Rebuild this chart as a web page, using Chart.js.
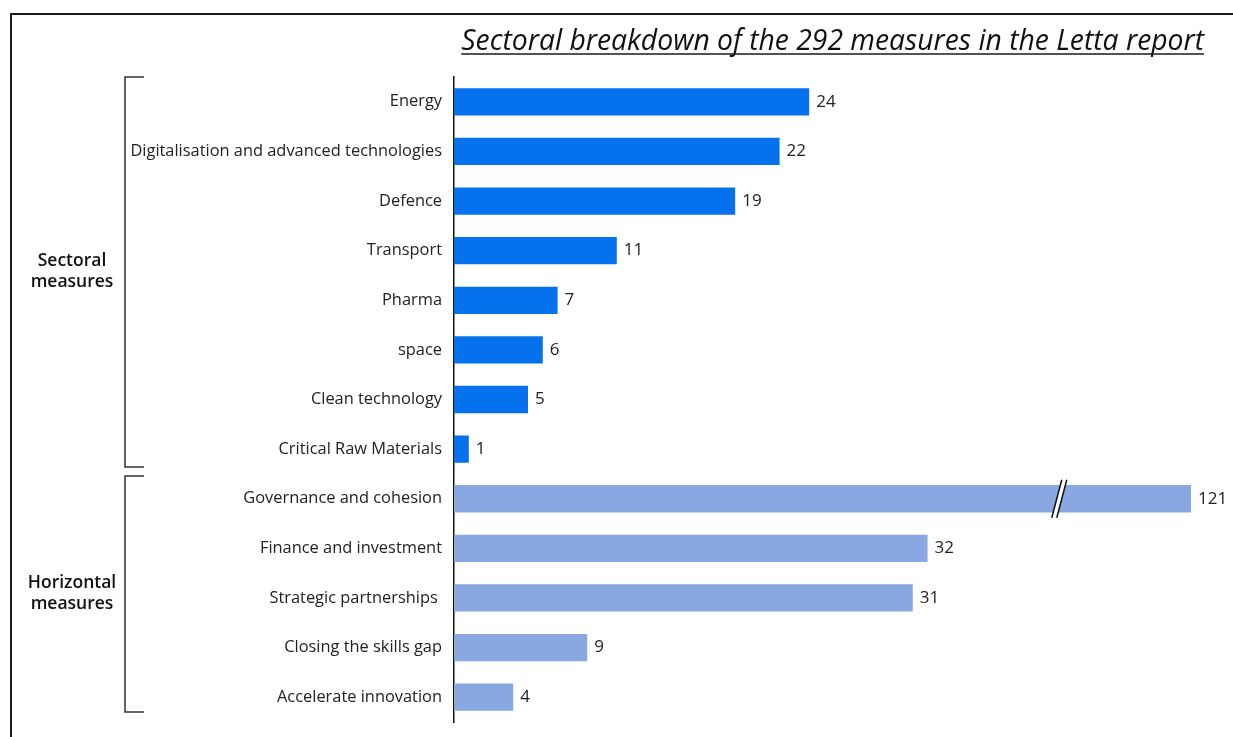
<!DOCTYPE html>
<html>
<head>
<meta charset="utf-8">
<script src="https://cdn.jsdelivr.net/npm/chart.js@4"></script>
<style>
  html, body { margin:0; padding:0; background:#fff; }
  #wrap { width:1233px; height:737px; }
</style>
</head>
<body>
<div id="wrap"><canvas id="lettaChart" width="1233" height="737"></canvas></div>
<script>
var categories = ['Energy','Digitalisation and advanced technologies','Defence','Transport','Pharma','space','Clean technology','Critical Raw Materials','Governance and cohesion','Finance and investment','Strategic partnerships ','Closing the skills gap','Accelerate innovation'];
var measures = [24,22,19,11,7,6,5,1,121,32,31,9,4];
var groups = ['S','S','S','S','S','S','S','S','H','H','H','H','H'];
var groupLabels = { S:['Sectoral','measures'], H:['Horizontal','measures'] };
var axisMax = 49.8;    // axis is cut, the 121 bar gets a break mark
var breakAt = 41;

var sectoralColor = '#0571ec';
var horizontalColor = '#89a7e1';

var extras = {
    id:'extras',
    afterDraw:function(chart){
        var ctx = chart.ctx, area = chart.chartArea;
        var xs = chart.scales.x, ys = chart.scales.y;
        var meta = chart.getDatasetMeta(0);
        ctx.save();
        // frame
        ctx.strokeStyle = '#1a1a1a';
        ctx.lineWidth = 2;
        ctx.beginPath();
        ctx.moveTo(11, 760); ctx.lineTo(11, 14); ctx.lineTo(1260, 14);
        ctx.stroke();
        // title
        ctx.font = 'italic 28.3px "Open Sans"';
        ctx.fillStyle = '#111';
        ctx.textAlign = 'right';
        ctx.textBaseline = 'alphabetic';
        var t = 'Sectoral breakdown of the 292 measures in the Letta report';
        ctx.fillText(t, 1204, 50);
        var tw = ctx.measureText(t).width;
        ctx.lineWidth = 1.4;
        ctx.beginPath(); ctx.moveTo(1204 - tw, 54); ctx.lineTo(1204, 54); ctx.stroke();
        // value labels
        ctx.font = '17px "Open Sans"';
        ctx.fillStyle = '#222';
        ctx.textAlign = 'left';
        ctx.textBaseline = 'middle';
        meta.data.forEach(function(bar, i){
            var x = Math.min(bar.x, area.right);
            ctx.fillText(String(measures[i]), x + 7, bar.y);
        });
        // break mark on bars beyond axis max
        meta.data.forEach(function(bar, i){
            if (measures[i] <= axisMax) return;
            var bx = xs.getPixelForValue(breakAt);
            var top = bar.y - 19, bot = bar.y + 19;
            ctx.fillStyle = '#fff';
            ctx.beginPath();
            ctx.moveTo(bx - 9, bot); ctx.lineTo(bx + 1, top); ctx.lineTo(bx + 6, top); ctx.lineTo(bx - 4, bot);
            ctx.closePath(); ctx.fill();
            ctx.strokeStyle = '#111'; ctx.lineWidth = 1.5;
            ctx.beginPath();
            ctx.moveTo(bx - 9, bot); ctx.lineTo(bx + 1, top);
            ctx.moveTo(bx - 4, bot); ctx.lineTo(bx + 6, top);
            ctx.stroke();
        });
        // group brackets and labels
        ctx.strokeStyle = '#333'; ctx.lineWidth = 1.5;
        ['S','H'].forEach(function(g){
            var idx = [];
            groups.forEach(function(v, i){ if (v === g) idx.push(i); });
            var half = (ys.getPixelForValue(1) - ys.getPixelForValue(0)) / 2;
            var y0 = ys.getPixelForValue(idx[0]) - half + (g === 'H' ? 2 : 0);
            var y1 = ys.getPixelForValue(idx[idx.length - 1]) + half - (g === 'S' ? 7 : 10);
            ctx.beginPath();
            ctx.moveTo(144, y0); ctx.lineTo(125, y0); ctx.lineTo(125, y1); ctx.lineTo(144, y1);
            ctx.stroke();
            var mid = (y0 + y1) / 2;
            ctx.font = '600 17.5px "Open Sans"';
            ctx.fillStyle = '#111';
            ctx.textAlign = 'center';
            ctx.fillText(groupLabels[g][0], 72, mid - 11);
            ctx.fillText(groupLabels[g][1], 72, mid + 10);
        });
        ctx.restore();
    }
};

new Chart(document.getElementById('lettaChart'), {
    type:'bar',
    data:{
        labels:categories,
        datasets:[{
            data:measures,
            backgroundColor:groups.map(function(g){ return g === 'S' ? sectoralColor : horizontalColor; }),
            barPercentage:0.55,
            categoryPercentage:1
        }]
    },
    options:{
        indexAxis:'y',
        responsive:false,
        animation:false,
        layout:{ padding:{ top:77, right:42, bottom:15, left:0 } },
        plugins:{ legend:{ display:false }, tooltip:{ enabled:false } },
        scales:{
            x:{ min:0, max:axisMax, display:false },
            y:{
                grid:{ display:false, drawTicks:false },
                border:{ display:true, color:'#111', width:1.5 },
                ticks:{ color:'#222', padding:12, font:{ family:'Open Sans', size:16.4 } },
                afterFit:function(scale){
                    scale.width = 454;
                    scale.paddingTop = 0;
                    scale.paddingBottom = 0;
                }
            }
        }
    },
    plugins:[extras]
});
</script>
</body>
</html>
